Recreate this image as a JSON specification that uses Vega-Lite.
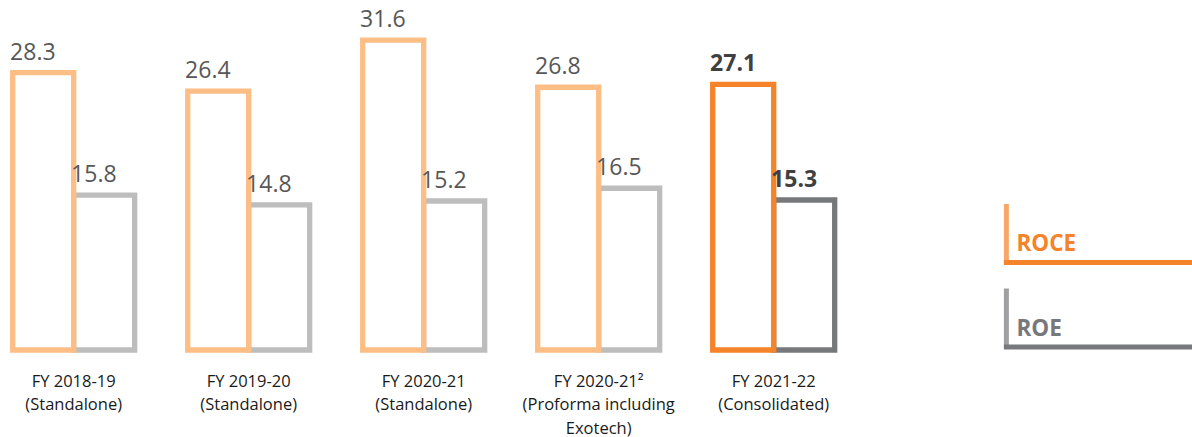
{
  "$schema": "https://vega.github.io/schema/vega-lite/v6.json",
  "padding": 0,
  "background": "white",
  "config": {"view": {"stroke": null}, "font": "Open Sans"},
  "datasets": {
    "metrics": [
      {"period": "FY 2018-19\n(Standalone)", "basis": "Standalone", "series": "ROE", "value": 15.8},
      {"period": "FY 2018-19\n(Standalone)", "basis": "Standalone", "series": "ROCE", "value": 28.3},
      {"period": "FY 2019-20\n(Standalone)", "basis": "Standalone", "series": "ROE", "value": 14.8},
      {"period": "FY 2019-20\n(Standalone)", "basis": "Standalone", "series": "ROCE", "value": 26.4},
      {"period": "FY 2020-21\n(Standalone)", "basis": "Standalone", "series": "ROE", "value": 15.2},
      {"period": "FY 2020-21\n(Standalone)", "basis": "Standalone", "series": "ROCE", "value": 31.6},
      {"period": "FY 2020-21²\n(Proforma including\nExotech)", "basis": "Proforma", "series": "ROE", "value": 16.5},
      {"period": "FY 2020-21²\n(Proforma including\nExotech)", "basis": "Proforma", "series": "ROCE", "value": 26.8},
      {"period": "FY 2021-22\n(Consolidated)", "basis": "Consolidated", "series": "ROE", "value": 15.3},
      {"period": "FY 2021-22\n(Consolidated)", "basis": "Consolidated", "series": "ROCE", "value": 27.1}
    ],
    "legend": [{"series": "ROCE"}, {"series": "ROE"}]
  },
  "spacing": 154.4,
  "hconcat": [
    {
      "width": 847.4,
      "height": 350,
      "data": {"name": "metrics"},
      "transform": [
        {"calculate": "datum.series + (datum.basis === 'Consolidated' ? ' current' : '')", "as": "tone"}
      ],
      "encoding": {
        "x": {
          "field": "period", "type": "nominal", "sort": null,
          "scale": {"paddingInner": 0.303, "paddingOuter": 0.0726},
          "axis": {
            "title": null, "labelAngle": 0, "domain": false, "ticks": false,
            "labelPadding": 23, "labelFontSize": 16.5, "labelColor": "#1a1a1a",
            "labelExpr": "split(datum.label, '\\n')", "labelLineHeight": 23.5,
            "labelBaseline": "top", "labelFont": "Open Sans"
          }
        },
        "xOffset": {"field": "series", "type": "nominal", "sort": ["ROCE", "ROE"], "scale": {"paddingInner": 0, "paddingOuter": 0}},
        "y": {"field": "value", "type": "quantitative", "scale": {"domain": [0, 35.7], "nice": false}, "axis": null}
      },
      "layer": [
        {
          "mark": {"type": "bar", "fill": "white", "strokeWidth": 5.3, "strokeJoin": "miter"},
          "encoding": {
            "stroke": {
              "field": "tone", "type": "nominal", "legend": null,
              "scale": {"domain": ["ROCE", "ROE", "ROCE current", "ROE current"], "range": ["#FDBE86", "#BDBDBD", "#F4832A", "#77787B"]}
            }
          }
        },
        {
          "transform": [{"filter": "datum.basis !== 'Consolidated'"}],
          "mark": {"type": "text", "align": "left", "baseline": "alphabetic", "fontSize": 23, "dx": -33.1, "dy": -13, "color": "#575757"},
          "encoding": {"text": {"field": "value", "type": "quantitative", "format": ".1f"}}
        },
        {
          "transform": [{"filter": "datum.basis === 'Consolidated'"}],
          "mark": {"type": "text", "align": "left", "baseline": "alphabetic", "fontSize": 23, "fontWeight": "bold", "dx": -33.1, "dy": -13, "color": "#404040"},
          "encoding": {"text": {"field": "value", "type": "quantitative", "format": ".1f"}}
        }
      ]
    },
    {
      "width": 190.2,
      "height": 350,
      "data": {"name": "legend"},
      "encoding": {
        "y": {"field": "series", "type": "nominal", "sort": ["ROCE", "ROE"], "scale": {"range": [204, 347], "paddingInner": 0.3077, "paddingOuter": 0}, "axis": null},
        "color": {"field": "series", "type": "nominal", "legend": null, "scale": {"domain": ["ROCE", "ROE"], "range": ["#F4832A", "#77787B"]}}
      },
      "layer": [
        {
          "mark": {"type": "rule", "strokeWidth": 5, "strokeCap": "square"},
          "encoding": {"y": {"field": "series", "type": "nominal", "sort": ["ROCE", "ROE"], "bandPosition": 1}}
        },
        {
          "mark": {"type": "tick", "thickness": 5, "size": 58.5},
          "encoding": {"x": {"datum": 0, "type": "quantitative", "scale": {"domain": [0, 1]}, "axis": null}}
        },
        {
          "mark": {"type": "text", "align": "left", "baseline": "alphabetic", "fontSize": 22.5, "fontWeight": "bold", "dx": 10, "dy": -11.5},
          "encoding": {
            "x": {"datum": 0, "type": "quantitative", "scale": {"domain": [0, 1]}, "axis": null},
            "y": {"field": "series", "type": "nominal", "sort": ["ROCE", "ROE"], "bandPosition": 1},
            "text": {"field": "series"}
          }
        }
      ]
    }
  ]
}
